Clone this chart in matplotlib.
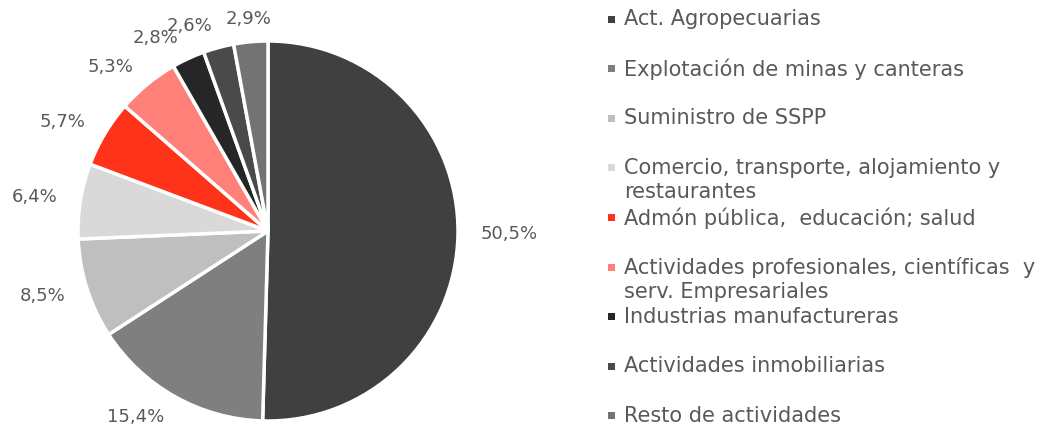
import matplotlib
matplotlib.use("Agg")
import matplotlib.pyplot as plt
import numpy as np
from matplotlib.patches import Rectangle

categories = [
    "Act. Agropecuarias",
    "Explotación de minas y canteras",
    "Suministro de SSPP",
    "Comercio, transporte, alojamiento y\nrestaurantes",
    "Admón pública,  educación; salud",
    "Actividades profesionales, científicas  y\nserv. Empresariales",
    "Industrias manufactureras",
    "Actividades inmobiliarias",
    "Resto de actividades",
]
values = [50.5, 15.4, 8.5, 6.4, 5.7, 5.3, 2.8, 2.6, 2.9]
labels = ["50,5%", "15,4%", "8,5%", "6,4%", "5,7%", "5,3%", "2,8%", "2,6%", "2,9%"]
colors = ["#404040", "#7f7f7f", "#bfbfbf", "#d9d9d9", "#ff3319",
          "#ff8079", "#262626", "#4a4a4a", "#737373"]

W, H = 1041, 434
fig = plt.figure(figsize=(W / 100, H / 100), dpi=100)
font = "DejaVu Sans"
txtcol = "#595959"

cx, cy, r = 268, 231, 190
ax = fig.add_axes([(cx - r) / W, (H - cy - r) / H, 2 * r / W, 2 * r / H])
wedges, texts = ax.pie(values, colors=colors, labels=labels, startangle=90,
                       counterclock=False, labeldistance=1.12,
                       wedgeprops=dict(edgecolor="white", linewidth=2.5),
                       textprops=dict(fontsize=13, color=txtcol, family=font))
for w, t in zip(wedges, texts):
    ang = np.deg2rad((w.theta1 + w.theta2) / 2)
    if abs(np.cos(ang)) < 0.15:
        t.set_ha("center")
ax.set_xlim(-1, 1)
ax.set_ylim(-1, 1)
ax.set_aspect("equal")
ax.axis("off")

# legend
x_sq, x_txt = 611, 624
y0, dy = 19, 49.6
for i, (cat, col) in enumerate(zip(categories, colors)):
    y = y0 + i * dy
    fig.patches.append(Rectangle(((x_sq - 3.5) / W, (H - y - 3.5) / H), 7 / W, 7 / H,
                                 transform=fig.transFigure, facecolor=col,
                                 edgecolor="none"))
    fig.text(x_txt / W, (H - y + 10) / H, cat, fontsize=15, color=txtcol,
             family=font, va="top", ha="left", linespacing=1.28)

fig.savefig("out.png", dpi=100)
